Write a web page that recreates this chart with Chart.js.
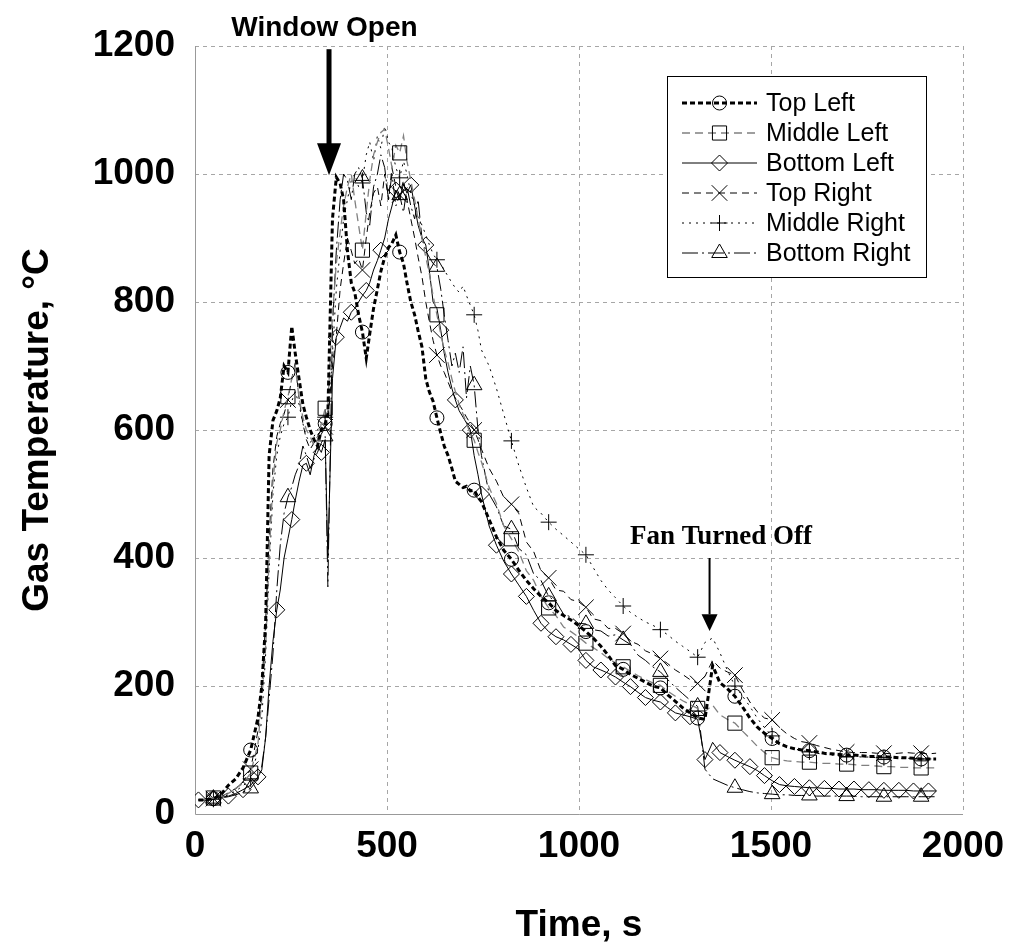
<!DOCTYPE html>
<html><head><meta charset="utf-8">
<script src="https://cdn.jsdelivr.net/npm/chart.js@4.4.1/dist/chart.umd.min.js"></script>
<style>html,body{margin:0;padding:0;background:#fff;}#wrap{position:relative;width:1011px;height:948px;}</style>
</head><body><div id="wrap"><canvas id="c"></canvas></div>
<script>
// ---------------- DATA ----------------
const TIME = [
  9,28,48,67,87,106,125,145,164,174,
  184,193,203,213,222,232,242,252,261,271,
  281,290,300,310,319,329,339,346,358,368,
  378,387,397,407,416,426,436,446,455,465,
  475,484,494,504,513,523,533,543,552,562,
  572,581,591,601,610,620,630,640,649,659,
  669,678,688,698,707,717,727,737,746,766,
  785,804,824,843,863,882,901,921,940,960,
  979,998,1018,1037,1057,1076,1095,1115,1134,1154,
  1173,1192,1212,1231,1251,1270,1289,1309,1328,1348,
  1367,1386,1406,1425,1445,1464,1483,1503,1522,1542,
  1561,1580,1600,1619,1639,1658,1677,1697,1716,1736,
  1755,1774,1794,1813,1833,1852,1871,1891,1910,1930
];
const TOP_LEFT = [
  22,22,24,30,45,55,72,100,150,200,
  300,560,615,630,650,700,690,762,720,680,
  640,620,600,585,575,600,610,625,930,995,
  985,960,880,830,815,780,753,712,750,790,
  820,848,870,885,892,905,878,860,830,800,
  780,755,730,680,660,645,619,595,575,560,
  540,520,515,510,512,505,506,495,488,460,
  433,412,398,381,365,352,340,330,318,310,
  303,295,285,275,262,248,232,226,218,212,
  206,200,197,186,176,166,158,150,148,232,
  205,196,184,168,150,136,126,118,110,105,
  102,100,99,97,95,94,93,92,92,91,
  90,90,89,89,88,88,87,86,86,86
];
const MIDDLE_LEFT = [
  22,23,25,28,32,40,48,64,110,180,
  260,400,520,580,600,630,652,680,700,650,
  620,600,590,575,585,610,634,640,780,860,
  910,950,980,1000,960,920,881,940,990,1030,
  1050,1065,1070,1040,1010,1045,1033,1060,1020,990,
  960,930,900,870,845,810,780,750,725,705,
  680,660,640,625,610,595,584,565,550,510,
  485,450,430,410,380,365,340,322,310,292,
  285,277,267,260,252,243,236,230,223,216,
  210,205,201,192,184,177,171,165,160,170,
  155,148,142,130,118,106,96,88,85,83,
  82,81,81,80,79,79,78,78,77,76,
  76,75,74,74,73,73,72,72,72,72
];
const BOTTOM_LEFT = [
  22,23,24,26,28,32,38,45,58,69,
  120,200,270,319,350,400,430,460,490,520,
  545,548,530,560,575,565,585,400,680,745,
  760,775,770,784,790,800,810,818,830,850,
  865,881,900,930,950,975,960,985,970,983,
  950,920,900,889,850,800,790,756,720,690,
  665,647,630,620,611,600,560,530,500,450,
  420,395,375,358,340,318,298,285,277,272,
  265,258,240,230,225,220,214,206,199,190,
  182,178,175,166,158,155,152,148,85,112,
  96,90,84,79,74,68,60,52,46,44,
  43,42,41,41,40,40,39,39,39,38,
  38,38,37,37,37,37,36,36,36,36
];
const TOP_RIGHT = [
  22,22,24,27,33,40,50,70,130,200,
  300,430,540,590,610,625,647,680,705,650,
  610,585,570,580,590,600,605,612,700,748,
  820,860,900,880,860,868,850,900,940,970,
  980,950,1000,960,1010,980,967,990,960,930,
  900,870,840,800,770,740,717,700,690,675,
  660,650,640,630,620,610,600,585,570,540,
  520,495,484,470,425,410,380,369,350,348,
  335,332,323,305,302,290,290,282,270,265,
  255,250,243,235,225,218,210,204,215,240,
  228,222,217,195,175,160,150,147,135,125,
  118,113,111,107,104,101,99,97,96,96,
  96,95,95,94,95,96,95,95,94,95
];
const MIDDLE_RIGHT = [
  22,22,23,26,30,36,44,55,100,150,
  250,380,500,560,590,610,620,645,660,640,
  610,590,580,590,600,610,620,628,720,820,
  880,930,960,990,1000,980,990,1030,1050,1020,
  1060,1040,1075,1050,1040,1010,994,1020,1000,970,
  950,935,920,905,890,875,866,860,850,840,
  830,822,815,825,810,795,780,755,725,700,
  665,625,583,545,510,480,470,456,445,435,
  425,415,405,385,365,350,338,325,315,307,
  300,295,288,280,270,262,254,245,268,275,
  252,225,200,185,168,150,135,122,112,106,
  102,99,97,95,93,92,91,90,90,89,
  89,88,88,88,87,87,87,86,86,86
];
const BOTTOM_RIGHT = [
  22,22,24,25,27,30,34,40,55,75,
  120,180,250,350,420,470,495,511,530,545,
  575,560,540,555,565,580,590,355,760,880,
  960,1000,990,960,1000,1010,993,940,920,980,
  1000,1030,1010,960,1000,950,967,940,980,950,
  930,960,900,880,870,860,855,820,780,740,
  700,720,690,730,650,700,670,600,560,500,
  480,450,445,415,405,375,365,340,332,312,
  308,298,297,288,286,278,280,272,265,248,
  240,230,222,210,198,188,178,168,70,55,
  50,45,41,38,35,33,32,31,30,30,
  29,29,29,28,28,28,28,28,28,27,
  27,27,27,27,27,27,27,27,27,27
];
const SERIES_NAMES = ['Top Left','Middle Left','Bottom Left','Top Right','Middle Right','Bottom Right'];
const X_TICKS = [0,500,1000,1500,2000];
const Y_TICKS = [0,200,400,600,800,1000,1200];
const MARK_TIMES = [48,145,242,339,436,533,630,727,824,921,1018,1115,1212,1309,1406,1503,1600,1697,1794,1891];
const BL_MARK_TIMES = [9,48,87,125,164,213,252,290,329,368,407,446,484,523,562,601,640,678,717,746,785,824,863,901,940,979,1018,1057,1095,1134,1173,1212,1251,1289,1328,1367,1406,1445,1483,1522,1561,1600,1639,1677,1716,1755,1794,1833,1871,1910];

// ---------------- STYLE ----------------
const SANS = "'Liberation Sans', Arial, Helvetica, sans-serif";
const SERIF = "'Liberation Serif', 'Times New Roman', serif";
const VALUES = [TOP_LEFT, MIDDLE_LEFT, BOTTOM_LEFT, TOP_RIGHT, MIDDLE_RIGHT, BOTTOM_RIGHT];
const STYLES = [
  {color:'#000', width:3,   dash:[5,3],        point:'circle',   r:7,  marks:MARK_TIMES},
  {color:'#808080', width:1.3, dash:[8,5],     point:'rect',     r:10, marks:MARK_TIMES},
  {color:'#000', width:1,   dash:[],           point:'rectRot',  r:8,  marks:BL_MARK_TIMES},
  {color:'#000', width:1,   dash:[7,5],        point:'crossRot', r:11, marks:MARK_TIMES},
  {color:'#000', width:1,   dash:[2,5],        point:'cross',    r:8,  marks:MARK_TIMES},
  {color:'#000', width:1,   dash:[16,4,2,4],   point:'triangle', r:9,  marks:MARK_TIMES}
];

const datasets = SERIES_NAMES.map((name, k) => {
  const s = STYLES[k];
  const set = new Set(s.marks);
  return {
    label: name,
    data: TIME.map((t, i) => ({x: t, y: VALUES[k][i]})),
    borderColor: s.color,
    borderWidth: s.width,
    borderDash: s.dash,
    tension: 0,
    fill: false,
    pointStyle: s.point,
    pointRadius: (c) => set.has(TIME[c.dataIndex]) ? s.r : 0,
    pointHoverRadius: 0,
    pointBorderColor: '#000',
    pointBorderWidth: 1,
    pointBackgroundColor: 'rgba(0,0,0,0)'
  };
});

function drawMarker(ctx, style, r, x, y) {
  ctx.save();
  ctx.setLineDash([]);
  ctx.lineWidth = 1;
  ctx.strokeStyle = '#000';
  ctx.fillStyle = 'rgba(0,0,0,0)';
  if (window.Chart && Chart.helpers && Chart.helpers.drawPoint) {
    Chart.helpers.drawPoint(ctx, {pointStyle: style, radius: r, borderWidth: 1, rotation: 0}, x, y);
  } else {
    ctx.beginPath(); ctx.arc(x, y, r, 0, Math.PI * 2); ctx.stroke();
  }
  ctx.restore();
}

const framePlugin = {
  id: 'frame',
  beforeDatasetsDraw(chart) {
    const {ctx, chartArea: a, scales: {x, y}} = chart;
    ctx.save();
    ctx.lineWidth = 1;
    ctx.strokeStyle = '#a6a6a6';
    ctx.setLineDash([4, 4]);
    X_TICKS.forEach(v => {
      if (v === 0) return;
      const px = Math.round(x.getPixelForValue(v)) + 0.5;
      ctx.beginPath(); ctx.moveTo(px, a.top); ctx.lineTo(px, a.bottom); ctx.stroke();
    });
    Y_TICKS.forEach(v => {
      if (v === 0) return;
      const py = Math.round(y.getPixelForValue(v)) + 0.5;
      ctx.beginPath(); ctx.moveTo(a.left, py); ctx.lineTo(a.right, py); ctx.stroke();
    });
    ctx.setLineDash([]);
    ctx.strokeStyle = '#999';
    const l = Math.round(a.left) + 0.5, b = Math.round(a.bottom) + 0.5;
    ctx.beginPath(); ctx.moveTo(l, a.top); ctx.lineTo(l, b); ctx.lineTo(a.right, b); ctx.stroke();
    ctx.restore();
  },
  afterDraw(chart) {
    const {ctx, chartArea: a, scales: {x, y}} = chart;
    ctx.save();
    // axis titles
    ctx.fillStyle = '#000';
    ctx.font = 'bold 37px ' + SANS;
    ctx.textAlign = 'center';
    ctx.textBaseline = 'middle';
    ctx.fillText('Time, s', (a.left + a.right) / 2, 926);
    ctx.save();
    ctx.translate(38, (a.top + a.bottom) / 2);
    ctx.rotate(-Math.PI / 2);
    ctx.fillText('Gas Temperature, \u00B0C', 0, 0);
    ctx.restore();

    // legend
    const bx = 667, by = 76, bw = 259, bh = 201;
    ctx.fillStyle = '#fff';
    ctx.fillRect(bx, by, bw, bh);
    ctx.strokeStyle = '#000';
    ctx.lineWidth = 1;
    ctx.strokeRect(bx + 0.5, by + 0.5, bw, bh);
    SERIES_NAMES.forEach((name, k) => {
      const s = STYLES[k];
      const ly = 103 + 30 * k;
      ctx.save();
      ctx.strokeStyle = s.color;
      ctx.lineWidth = s.width;
      ctx.setLineDash(s.dash);
      ctx.beginPath(); ctx.moveTo(682, ly); ctx.lineTo(757, ly); ctx.stroke();
      ctx.restore();
      drawMarker(ctx, s.point, s.r, 719.5, ly);
      ctx.fillStyle = '#000';
      ctx.font = '25px ' + SANS;
      ctx.textAlign = 'left';
      ctx.textBaseline = 'middle';
      ctx.fillText(name, 766, ly + 1);
    });

    // Window Open annotation
    ctx.fillStyle = '#000';
    ctx.font = 'bold 28px ' + SANS;
    ctx.textAlign = 'center';
    ctx.textBaseline = 'middle';
    ctx.fillText('Window Open', x.getPixelForValue(337), y.getPixelForValue(1228));
    let ax = x.getPixelForValue(349);
    ctx.strokeStyle = '#000';
    ctx.lineWidth = 5;
    ctx.beginPath(); ctx.moveTo(ax, y.getPixelForValue(1195)); ctx.lineTo(ax, y.getPixelForValue(1045)); ctx.stroke();
    ctx.beginPath();
    ctx.moveTo(ax - 12, y.getPixelForValue(1048));
    ctx.lineTo(ax + 12, y.getPixelForValue(1048));
    ctx.lineTo(ax, y.getPixelForValue(998));
    ctx.closePath(); ctx.fill();

    // Fan Turned Off annotation
    ctx.font = 'bold 27px ' + SERIF;
    ctx.fillText('Fan Turned Off', x.getPixelForValue(1370), y.getPixelForValue(433));
    ax = x.getPixelForValue(1340);
    ctx.lineWidth = 2;
    ctx.beginPath(); ctx.moveTo(ax, y.getPixelForValue(400)); ctx.lineTo(ax, y.getPixelForValue(312)); ctx.stroke();
    ctx.beginPath();
    ctx.moveTo(ax - 8, y.getPixelForValue(312));
    ctx.lineTo(ax + 8, y.getPixelForValue(312));
    ctx.lineTo(ax, y.getPixelForValue(286));
    ctx.closePath(); ctx.fill();
    ctx.restore();
  }
};

Chart.defaults.font.family = SANS;
Chart.defaults.color = '#000';

new Chart(document.getElementById('c'), {
  type: 'line',
  data: {datasets},
  options: {
    responsive: true,
    maintainAspectRatio: false,
    animation: false,
    events: [],
    layout: {padding: {top: 46, right: 48, left: 0, bottom: 0}},
    plugins: {legend: {display: false}, tooltip: {enabled: false}, title: {display: false}},
    scales: {
      x: {
        type: 'linear', min: 0, max: 2000,
        afterBuildTicks: (s) => { s.ticks = X_TICKS.map(v => ({value: v})); },
        ticks: {font: {size: 37, weight: 'bold'}, color: '#000', padding: 11, maxRotation: 0, autoSkip: false,
                callback: (v) => String(v)},
        grid: {display: false, drawTicks: false},
        border: {display: false},
        afterFit: (s) => { s.height = 134; s.paddingLeft = 0; s.paddingRight = 0; }
      },
      y: {
        type: 'linear', min: 0, max: 1200,
        afterBuildTicks: (s) => { s.ticks = Y_TICKS.map(v => ({value: v})); },
        ticks: {font: {size: 37, weight: 'bold'}, color: '#000', padding: 20, autoSkip: false,
                callback: (v) => String(v)},
        grid: {display: false, drawTicks: false},
        border: {display: false},
        afterFit: (s) => { s.width = 195; s.paddingTop = 0; s.paddingBottom = 0; }
      }
    }
  },
  plugins: [framePlugin]
});
</script>
</body></html>
